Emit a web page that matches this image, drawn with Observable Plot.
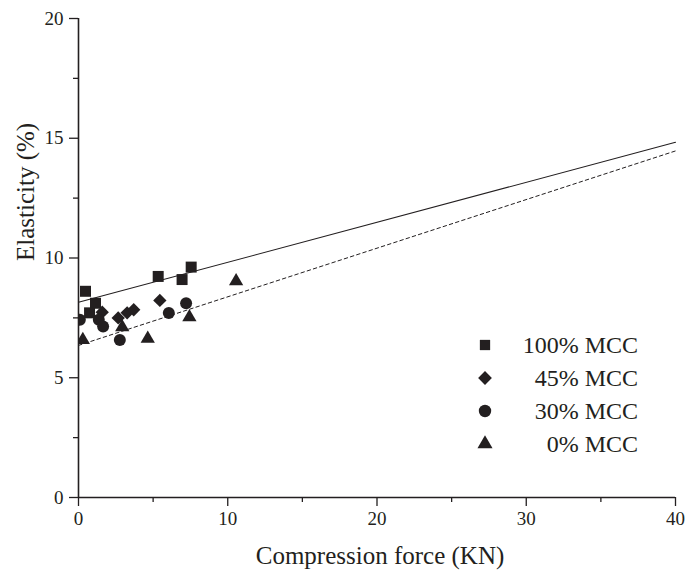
<!DOCTYPE html>
<html><head><meta charset="utf-8">
<script src="https://cdn.jsdelivr.net/npm/d3@7"></script>
<script src="https://cdn.jsdelivr.net/npm/@observablehq/plot@0.6"></script>
<style>body{margin:0;background:#fff;} #chart{position:relative;width:690px;height:581px;}</style>
</head><body><div id="chart"></div>
<script>
const seriesNames = ["100% MCC", "45% MCC", "30% MCC", "0% MCC"];
const seriesSymbols = ["square", "diamond2", "circle", "triangle"];
const mcc100X = [0.47, 1.14, 0.74, 5.34, 6.94, 7.55];
const mcc100Y = [8.61, 8.11, 7.71, 9.23, 9.10, 9.62];
const mcc45X = [1.59, 2.66, 3.26, 3.70, 5.45];
const mcc45Y = [7.74, 7.50, 7.71, 7.84, 8.23];
const mcc30X = [0.09, 1.36, 1.65, 2.77, 6.05, 7.21];
const mcc30Y = [7.42, 7.42, 7.14, 6.58, 7.70, 8.11];
const mcc0X = [0.29, 2.93, 4.64, 7.43, 10.56];
const mcc0Y = [6.58, 7.11, 6.63, 7.53, 9.03];
const fitIntercepts = [8.15, 6.35];
const fitSlopes = [0.167, 0.203];
const fitRange = [0, 40];
const xMajorTicks = [0, 10, 20, 30, 40];
const xMinorTicks = [5, 15, 25, 35];
const yMajorTicks = [0, 5, 10, 15, 20];
const yMinorTicks = [2.5, 7.5, 12.5, 17.5];

const seriesX = [mcc100X, mcc45X, mcc30X, mcc0X];
const seriesY = [mcc100Y, mcc45Y, mcc30Y, mcc0Y];
const seriesR = [6.2, 6.0, 6.0, 5.3];
const ink = "#231f20";
const font = "'Liberation Serif', 'Times New Roman', serif";

const pts = seriesX.map((xs, s) => xs.map((x, i) => ({x, y: seriesY[s][i]})));
const fitLine = (k) => fitRange.map(x => ({x, y: fitIntercepts[k] + fitSlopes[k] * x}));

const plot = Plot.plot({
  width: 690, height: 581,
  marginLeft: 78, marginRight: 15, marginTop: 18, marginBottom: 84,
  x: {domain: [0, 40]},
  y: {domain: [0, 20]},
  style: {fontFamily: font, background: "#fff", color: ink},
  marks: [
    Plot.line(fitLine(0), {x: "x", y: "y", stroke: ink, strokeWidth: 1.1}),
    Plot.line(fitLine(1), {x: "x", y: "y", stroke: ink, strokeWidth: 1, strokeDasharray: "3.5,3"}),
    ...pts.map((d, s) => Plot.dot(d, {x: "x", y: "y", symbol: () => seriesSymbols[s], r: seriesR[s], fill: ink, stroke: "none", clip: true})),
    Plot.axisX({ticks: xMajorTicks, tickSize: 9, tickPadding: 5, fontSize: 19, stroke: ink, strokeWidth: 1.3, label: null, tickFormat: d3.format("d")}),
    Plot.axisX({ticks: xMinorTicks, tickSize: 5, text: null, stroke: ink, strokeWidth: 1.3, label: null}),
    Plot.axisY({ticks: yMajorTicks, tickSize: 9, tickPadding: 6, fontSize: 19, stroke: ink, strokeWidth: 1.3, label: null}),
    Plot.axisY({ticks: yMinorTicks, tickSize: 5, text: null, stroke: ink, strokeWidth: 1.3, label: null}),
    Plot.ruleY([0], {stroke: ink, strokeWidth: 1.6}),
    Plot.ruleX([0], {stroke: ink, strokeWidth: 1.6}),
    Plot.text(["Elasticity (%)"], {frameAnchor: "left", dx: -53, dy: 3, rotate: -90, fontSize: 25, fill: ink}),
    Plot.text(["Compression force (KN)"], {frameAnchor: "bottom", dx: 3, dy: 66, fontSize: 25, fill: ink})
  ]
});

// legend
const svg = d3.select(plot);
const lg = svg.append("g").attr("transform", "translate(485,345)");
const symMap = {square: d3.symbolSquare, diamond2: d3.symbolDiamond2, circle: d3.symbolCircle, triangle: d3.symbolTriangle};
const legR = [5.8, 6.2, 6.2, 5.6];
seriesNames.forEach((name, i) => {
  const g = lg.append("g").attr("transform", `translate(0,${i * 33})`);
  g.append("path").attr("d", d3.symbol(symMap[seriesSymbols[i]], Math.PI * legR[i] * legR[i])()).attr("fill", ink);
  g.append("text").attr("x", 153).attr("text-anchor", "end").attr("dy", "0.35em")
    .attr("font-family", font).attr("font-size", 24).attr("fill", ink).text(name);
});

document.getElementById("chart").appendChild(plot);
</script>
</body></html>
